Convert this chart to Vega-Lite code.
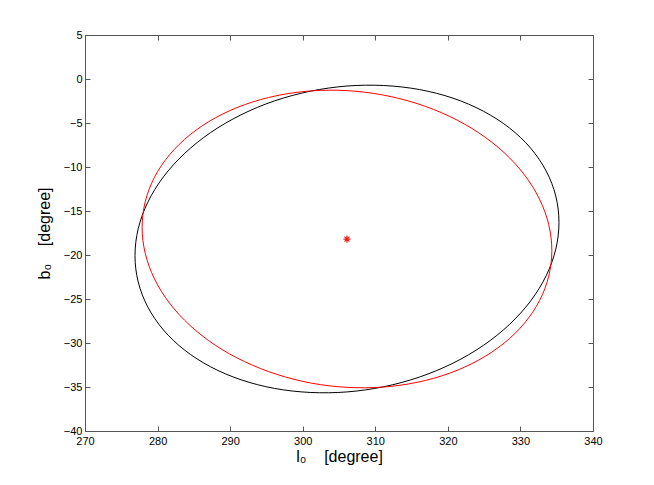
{
  "$schema": "https://vega.github.io/schema/vega-lite/v6.json",
  "width": 508,
  "height": 396,
  "autosize": {"type": "none"},
  "padding": {"left": 85, "top": 35, "right": 61, "bottom": 54},
  "background": "white",
  "config": {
    "view": {"stroke": null},
    "axis": {
      "labelFont": "Liberation Sans",
      "labelFontSize": 11,
      "labelColor": "#000",
      "tickColor": "#555",
      "domainColor": "#555",
      "tickSize": -5,
      "grid": false,
      "labelFlush": false,
      "labelOverlap": false,
      "titleFont": "Liberation Sans",
      "titleFontSize": 16,
      "titleFontWeight": "normal",
      "titleColor": "#000"
    }
  },
  "datasets": {
    "ellipses": [
      {"curve": "black", "t": 0, "x": 335.31, "y": -16.29},
      {"curve": "black", "t": 10, "x": 334.87, "y": -13.30},
      {"curve": "black", "t": 20, "x": 333.55, "y": -10.46},
      {"curve": "black", "t": 30, "x": 331.40, "y": -7.85},
      {"curve": "black", "t": 40, "x": 328.48, "y": -5.56},
      {"curve": "black", "t": 50, "x": 324.88, "y": -3.65},
      {"curve": "black", "t": 60, "x": 320.71, "y": -2.18},
      {"curve": "black", "t": 70, "x": 316.09, "y": -1.20},
      {"curve": "black", "t": 80, "x": 311.17, "y": -0.74},
      {"curve": "black", "t": 90, "x": 306.10, "y": -0.80},
      {"curve": "black", "t": 100, "x": 301.03, "y": -1.39},
      {"curve": "black", "t": 110, "x": 296.11, "y": -2.49},
      {"curve": "black", "t": 120, "x": 291.50, "y": -4.07},
      {"curve": "black", "t": 130, "x": 287.32, "y": -6.08},
      {"curve": "black", "t": 140, "x": 283.72, "y": -8.46},
      {"curve": "black", "t": 150, "x": 280.80, "y": -11.13},
      {"curve": "black", "t": 160, "x": 278.65, "y": -14.01},
      {"curve": "black", "t": 170, "x": 277.33, "y": -17.02},
      {"curve": "black", "t": 180, "x": 276.89, "y": -20.07},
      {"curve": "black", "t": 190, "x": 277.33, "y": -23.06},
      {"curve": "black", "t": 200, "x": 278.65, "y": -25.90},
      {"curve": "black", "t": 210, "x": 280.80, "y": -28.51},
      {"curve": "black", "t": 220, "x": 283.72, "y": -30.80},
      {"curve": "black", "t": 230, "x": 287.32, "y": -32.71},
      {"curve": "black", "t": 240, "x": 291.50, "y": -34.18},
      {"curve": "black", "t": 250, "x": 296.11, "y": -35.16},
      {"curve": "black", "t": 260, "x": 301.03, "y": -35.62},
      {"curve": "black", "t": 270, "x": 306.10, "y": -35.56},
      {"curve": "black", "t": 280, "x": 311.17, "y": -34.97},
      {"curve": "black", "t": 290, "x": 316.09, "y": -33.87},
      {"curve": "black", "t": 300, "x": 320.71, "y": -32.29},
      {"curve": "black", "t": 310, "x": 324.88, "y": -30.28},
      {"curve": "black", "t": 320, "x": 328.48, "y": -27.90},
      {"curve": "black", "t": 330, "x": 331.40, "y": -25.23},
      {"curve": "black", "t": 340, "x": 333.55, "y": -22.35},
      {"curve": "black", "t": 350, "x": 334.87, "y": -19.34},
      {"curve": "red", "t": 0, "x": 334.33, "y": -19.50},
      {"curve": "red", "t": 10, "x": 333.90, "y": -16.55},
      {"curve": "red", "t": 20, "x": 332.63, "y": -13.65},
      {"curve": "red", "t": 30, "x": 330.55, "y": -10.89},
      {"curve": "red", "t": 40, "x": 327.73, "y": -8.35},
      {"curve": "red", "t": 50, "x": 324.25, "y": -6.11},
      {"curve": "red", "t": 60, "x": 320.22, "y": -4.24},
      {"curve": "red", "t": 70, "x": 315.76, "y": -2.79},
      {"curve": "red", "t": 80, "x": 311.00, "y": -1.81},
      {"curve": "red", "t": 90, "x": 306.10, "y": -1.32},
      {"curve": "red", "t": 100, "x": 301.20, "y": -1.35},
      {"curve": "red", "t": 110, "x": 296.45, "y": -1.89},
      {"curve": "red", "t": 120, "x": 291.99, "y": -2.92},
      {"curve": "red", "t": 130, "x": 287.95, "y": -4.42},
      {"curve": "red", "t": 140, "x": 284.48, "y": -6.33},
      {"curve": "red", "t": 150, "x": 281.65, "y": -8.61},
      {"curve": "red", "t": 160, "x": 279.57, "y": -11.17},
      {"curve": "red", "t": 170, "x": 278.30, "y": -13.95},
      {"curve": "red", "t": 180, "x": 277.87, "y": -16.86},
      {"curve": "red", "t": 190, "x": 278.30, "y": -19.81},
      {"curve": "red", "t": 200, "x": 279.57, "y": -22.71},
      {"curve": "red", "t": 210, "x": 281.65, "y": -25.47},
      {"curve": "red", "t": 220, "x": 284.48, "y": -28.01},
      {"curve": "red", "t": 230, "x": 287.95, "y": -30.25},
      {"curve": "red", "t": 240, "x": 291.99, "y": -32.12},
      {"curve": "red", "t": 250, "x": 296.45, "y": -33.57},
      {"curve": "red", "t": 260, "x": 301.20, "y": -34.56},
      {"curve": "red", "t": 270, "x": 306.10, "y": -35.04},
      {"curve": "red", "t": 280, "x": 311.00, "y": -35.01},
      {"curve": "red", "t": 290, "x": 315.76, "y": -34.47},
      {"curve": "red", "t": 300, "x": 320.22, "y": -33.44},
      {"curve": "red", "t": 310, "x": 324.25, "y": -31.94},
      {"curve": "red", "t": 320, "x": 327.73, "y": -30.03},
      {"curve": "red", "t": 330, "x": 330.55, "y": -27.75},
      {"curve": "red", "t": 340, "x": 332.63, "y": -25.19},
      {"curve": "red", "t": 350, "x": 333.90, "y": -22.41}
    ],
    "center": [
      {"x": 306.1, "y": -18.2}
    ]
  },
  "layer": [
    {
      "data": {"name": "ellipses"},
      "mark": {"type": "line", "interpolate": "cardinal-closed", "strokeWidth": 1, "clip": false},
      "encoding": {
        "x": {
          "field": "x", "type": "quantitative",
          "scale": {"domain": [270, 340], "nice": false, "zero": false},
          "axis": {"orient": "bottom", "values": [270, 280, 290, 300, 310, 320, 330, 340], "labelPadding": 9, "titlePadding": 2, "title": "l₀\u00a0\u00a0\u00a0\u00a0[degree]"}
        },
        "y": {
          "field": "y", "type": "quantitative",
          "scale": {"domain": [-40, 5], "nice": false, "zero": false},
          "axis": {"orient": "left", "values": [-40, -35, -30, -25, -20, -15, -10, -5, 0, 5], "labelPadding": 8, "titlePadding": 11, "title": "b₀\u00a0\u00a0\u00a0\u00a0[degree]"}
        },
        "color": {"field": "curve", "type": "nominal", "scale": {"domain": ["black", "red"], "range": ["#000000", "#ff0000"]}, "legend": null},
        "order": {"field": "t", "type": "quantitative"}
      }
    },
    {
      "data": {"name": "center"},
      "mark": {"type": "point", "shape": "M-1,0L1,0M0,-1L0,1M-0.7,-0.7L0.7,0.7M-0.7,0.7L0.7,-0.7", "size": 50, "filled": false, "strokeWidth": 1.2, "color": "#e8201a", "opacity": 1},
      "encoding": {
        "x": {
          "field": "x", "type": "quantitative",
          "axis": {"orient": "top", "values": [270, 280, 290, 300, 310, 320, 330, 340], "labels": false, "title": null}
        },
        "y": {
          "field": "y", "type": "quantitative",
          "axis": {"orient": "right", "values": [-40, -35, -30, -25, -20, -15, -10, -5, 0, 5], "labels": false, "title": null}
        }
      }
    }
  ],
  "resolve": {"axis": {"x": "independent", "y": "independent"}}
}
